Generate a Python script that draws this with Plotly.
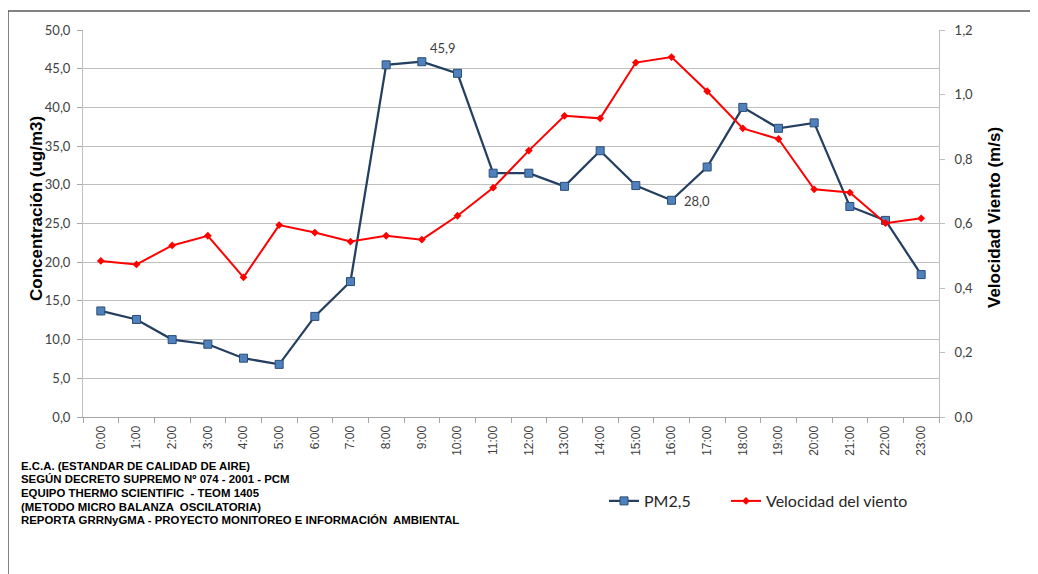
import plotly.graph_objects as go

hours = [f"{h}:00" for h in range(24)]
pm25 = [13.7, 12.6, 10.0, 9.4, 7.6, 6.8, 13.0, 17.5, 45.5, 45.9, 44.4, 31.5,
        31.5, 29.8, 34.4, 29.9, 28.0, 32.3, 40.0, 37.3, 38.0, 27.2, 25.4, 18.4]
wind = [0.484, 0.473, 0.532, 0.562, 0.433, 0.595, 0.572, 0.544, 0.562, 0.550, 0.624, 0.711,
        0.826, 0.934, 0.926, 1.099, 1.116, 1.010, 0.895, 0.862, 0.706, 0.696, 0.601, 0.616]
footer_lines = [
    "E.C.A. (ESTANDAR DE CALIDAD DE AIRE)",
    "SEGÚN DECRETO SUPREMO Nº 074 - 2001 - PCM",
    "EQUIPO THERMO SCIENTIFIC  - TEOM 1405",
    "(METODO MICRO BALANZA  OSCILATORIA)",
    "REPORTA GRRNyGMA - PROYECTO MONITOREO E INFORMACIÓN  AMBIENTAL",
]
labelled = [(9, "45,9", 21, 14), (16, "28,0", 25, -1)]

OFF = 8  # page body margin
W, H = 1038 - OFF, 574 - OFF
# plot area in page pixel coordinates
L, R, T, B = 83, 939, 30, 417
pw, ph = R - L, B - T

def px(x):
    return (x - L) / pw

def py(y):
    return (B - y) / ph

fig = go.Figure()
fig.add_trace(go.Scatter(
    x=hours, y=pm25, name="PM2,5", mode="lines+markers", legend="legend",
    line=dict(color="#243F60", width=2.25),
    marker=dict(symbol="square", size=8, color="#4F81BD",
                line=dict(color="#2C4D75", width=1)),
))
fig.add_trace(go.Scatter(
    x=hours, y=wind, name="Velocidad del viento", mode="lines+markers",
    yaxis="y2", legend="legend2",
    line=dict(color="#FF0000", width=2),
    marker=dict(symbol="diamond", size=6, color="#FF0000"),
))

annotations = []
for i, txt, xs, ys in labelled:
    annotations.append(dict(x=hours[i], y=pm25[i], text=txt, showarrow=False,
                            xshift=xs, yshift=ys,
                            font=dict(family="Lato", size=13, color="#404040")))
for k, line in enumerate(footer_lines):
    annotations.append(dict(xref="paper", yref="paper", x=px(19), y=py(466 + k * 13.5),
                            xanchor="left", yanchor="middle", text=f"<b>{line}</b>", showarrow=False,
                            font=dict(family="Liberation Sans", size=11.4, color="#000000")))
annotations.append(dict(xref="paper", yref="paper", x=px(36), y=py(209),
                        text="<b>Concentración (ug/m3)</b>", textangle=-90, showarrow=False,
                        xanchor="center", yanchor="middle",
                        font=dict(family="Liberation Sans", size=17, color="#000000")))
annotations.append(dict(xref="paper", yref="paper", x=px(994), y=py(218),
                        text="<b>Velocidad Viento (m/s)</b>", textangle=-90, showarrow=False,
                        xanchor="center", yanchor="middle",
                        font=dict(family="Liberation Sans", size=17, color="#000000")))

shapes = [
    dict(type="line", xref="paper", yref="paper", x0=px(8), x1=px(1045), y0=py(11), y1=py(11),
         line=dict(color="#595959", width=1.5)),
    dict(type="line", xref="paper", yref="paper", x0=px(8), x1=px(8), y0=py(11), y1=py(580),
         line=dict(color="#595959", width=1.5)),
]

legend_font = dict(family="Lato", size=16, color="#262626")

fig.update_layout(
    width=W, height=H,
    margin=dict(l=L - OFF, r=(1038 - R), t=T - OFF, b=(574 - B)),
    paper_bgcolor="white", plot_bgcolor="white",
    separators=",.",
    showlegend=True,
    legend=dict(orientation="h", x=px(604), y=py(501), xanchor="left", yanchor="middle",
                font=legend_font, bgcolor="rgba(0,0,0,0)"),
    legend2=dict(orientation="h", x=px(726), y=py(501), xanchor="left", yanchor="middle",
                 font=legend_font, bgcolor="rgba(0,0,0,0)"),
    xaxis=dict(type="category", range=[-0.5, 23.5], tickangle=-90,
               ticks="outside", tickson="boundaries", ticklen=5, tickcolor="#A6A6A6",
               showline=True, linecolor="#A6A6A6", linewidth=1, showgrid=False,
               tickfont=dict(family="Liberation Sans", size=12, color="#404040"),
               ticklabelstandoff=3, fixedrange=True),
    yaxis=dict(range=[0, 50], dtick=5, tickformat=".1f",
               ticks="outside", ticklen=5, tickcolor="#A6A6A6",
               showline=True, linecolor="#BFBFBF", linewidth=1,
               showgrid=True, gridcolor="#BFBFBF", gridwidth=1, zeroline=False,
               ticklabelstandoff=4,
               tickfont=dict(family="Lato", size=13, color="#404040")),
    yaxis2=dict(range=[0, 1.2], dtick=0.2, tickformat=".1f", overlaying="y", side="right",
                ticks="outside", ticklen=5, tickcolor="#BFBFBF",
                showline=True, linecolor="#BFBFBF", linewidth=1,
                showgrid=False, zeroline=False, ticklabelstandoff=7,
                tickfont=dict(family="Lato", size=13, color="#404040")),
    annotations=annotations,
    shapes=shapes,
)

fig.write_html("out.html")
